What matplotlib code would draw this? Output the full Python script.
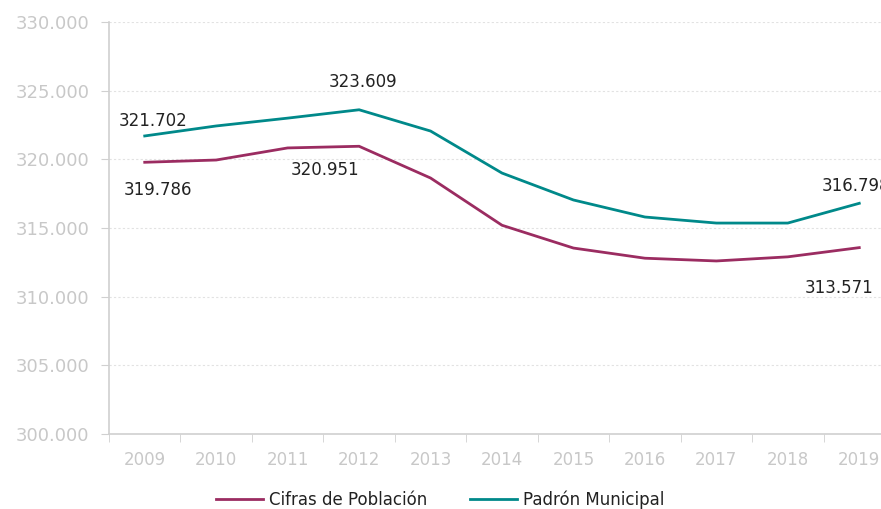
import matplotlib.pyplot as plt
from matplotlib.ticker import FuncFormatter
from matplotlib.lines import Line2D

# data
years = ['2009', '2010', '2011', '2012', '2013', '2014', '2015', '2016', '2017', '2018', '2019']
cifras = [319786, 319950, 320830, 320951, 318640, 315200, 313540, 312800, 312600, 312900, 313571]
padron = [321702, 322430, 323000, 323609, 322060, 319000, 317040, 315800, 315360, 315360, 316798]

purple = '#9B2C61'
teal = '#00898A'
grey_txt = '#C8C8C8'
grey_line = '#D0D0D0'

plt.rcParams['font.family'] = 'DejaVu Sans'

fig = plt.figure(figsize=(8.81, 5.09), dpi=100)
ax = fig.add_axes([109 / 881, 75 / 509, 786 / 881, 412 / 509])

x = list(range(len(years)))
ax.plot(x, cifras, color=purple, lw=2, solid_joinstyle='miter')
ax.plot(x, padron, color=teal, lw=2, solid_joinstyle='miter')

ax.set_xlim(-0.5, len(years) - 0.5)
ax.set_ylim(300000, 330000)
ax.set_yticks(range(300000, 330001, 5000))
ax.yaxis.set_major_formatter(FuncFormatter(lambda v, p: f'{v:,.0f}'.replace(',', '.')))
ax.set_xticks(x)
ax.set_xticklabels(years)
ax.set_xticks([i - 0.5 for i in range(len(years) + 1)], minor=True)
ax.tick_params(axis='x', which='major', length=0, pad=12, labelsize=12, labelcolor=grey_txt)
ax.tick_params(axis='x', which='minor', length=6, color=grey_line, direction='out')
ax.tick_params(axis='y', length=6, color=grey_line, pad=8, labelsize=13, labelcolor=grey_txt)

ax.grid(axis='y', color='#E2E2E2', lw=0.8, linestyle=(0, (2, 2)))
ax.set_axisbelow(True)
for s in ['top', 'right']:
    ax.spines[s].set_visible(False)
for s in ['left', 'bottom']:
    ax.spines[s].set_color(grey_line)
    ax.spines[s].set_linewidth(1.2)

def fmt(v):
    return f'{v:,}'.replace(',', '.')

# data labels (first, peak and last values)
lab = dict(fontsize=12, color='#222222', ha='center', va='center', textcoords='offset pixels')
ax.annotate(fmt(padron[0]), (0, padron[0]), xytext=(8, 15), **lab)
ax.annotate(fmt(cifras[0]), (0, cifras[0]), xytext=(13, -28), **lab)
ax.annotate(fmt(padron[3]), (3, padron[3]), xytext=(4, 28), **lab)
ax.annotate(fmt(cifras[3]), (3, cifras[3]), xytext=(-34, -24), **lab)
ax.annotate(fmt(padron[10]), (10, padron[10]), xytext=(-3, 17), annotation_clip=False, **lab)
ax.annotate(fmt(cifras[10]), (10, cifras[10]), xytext=(-20, -40), annotation_clip=False, **lab)

handles = [Line2D([], [], color=purple, lw=2), Line2D([], [], color=teal, lw=2)]
fig.legend(handles, ['Cifras de Población', 'Padrón Municipal'], loc='center',
           bbox_to_anchor=(440 / 881, 9 / 509), ncol=2, frameon=False, fontsize=12,
           handlelength=2.8, columnspacing=2.6, handletextpad=0.35, labelcolor='#222222')

fig.savefig('out.png', dpi=100)
